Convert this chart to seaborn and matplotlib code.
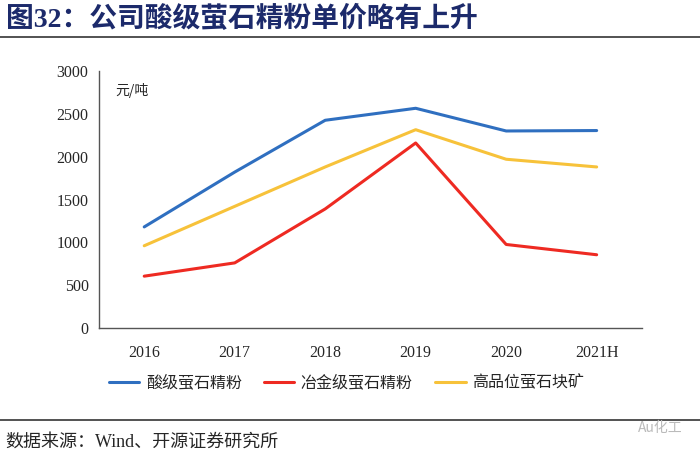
import pandas as pd
import numpy as np
import matplotlib.pyplot as plt
import seaborn as sns

sns.set_style('white')
plt.rcParams['font.family'] = ['Liberation Serif', 'Noto Sans CJK SC', 'DejaVu Sans']

years = ['2016', '2017', '2018', '2019', '2020', '2021H']
acid_grade = [1180, 1820, 2425, 2565, 2300, 2305]      # 酸级萤石精粉
metal_grade = [605, 760, 1390, 2160, 975, 855]         # 冶金级萤石精粉
lump_ore = [960, 1420, 1880, 2315, 1970, 1880]         # 高品位萤石块矿
series_names = ['酸级萤石精粉', '冶金级萤石精粉', '高品位萤石块矿']
colors = ['#2F6FC0', '#EE2A22', '#F7C23A']

df = pd.DataFrame({'year': years * 3,
                   'price': acid_grade + metal_grade + lump_ore,
                   'kind': np.repeat(series_names, len(years))})
df['x'] = list(range(len(years))) * 3

fig = plt.figure(figsize=(7, 4.57), dpi=100)
ax = fig.add_axes([0.1414, 0.2823, 0.7756, 0.5623])

sns.lineplot(data=df, x='x', y='price', hue='kind', palette=colors,
             hue_order=series_names, linewidth=2.2, ax=ax, legend=False)

ax.set_xlim(-0.5, 5.5)
ax.set_ylim(0, 3000)
ax.set_yticks(range(0, 3001, 500))
ax.set_xticks(range(len(years)))
ax.set_xticklabels(years)
ax.set_xticks(np.arange(-0.5, 5.6, 1), minor=True)
ax.tick_params(axis='x', which='major', length=0, pad=12, labelsize=11.5)
ax.tick_params(axis='x', which='minor', length=4, direction='in', color='#555555')
ax.tick_params(axis='y', length=4, direction='out', labelsize=11.5, color='#555555')
ax.set_xlabel('')
ax.set_ylabel('')
for s in ['top', 'right']:
    ax.spines[s].set_visible(False)
for s in ['left', 'bottom']:
    ax.spines[s].set_color('#555555')
    ax.spines[s].set_linewidth(1)
ax.text(0.03, 0.955, '元/吨', transform=ax.transAxes, fontsize=10,
        family=['Noto Sans CJK SC'], va='top')

handles = [plt.Line2D([], [], color=c, linewidth=2.2) for c in colors]
fig.legend(handles, series_names, loc='center', bbox_to_anchor=(0.495, 0.162),
           ncol=3, frameon=False, handlelength=1.9, handletextpad=0.4,
           columnspacing=1.4, prop={'family': ['Noto Sans CJK SC'], 'size': 11.5})

# title and rules
fig.text(0.008, 0.958, '图32：公司酸级萤石精粉单价略有上升', fontsize=20, weight='bold',
         color='#1C2A6B', family=['Liberation Serif', 'Noto Sans CJK SC'], va='center')
fig.add_artist(plt.Line2D([0.0, 1.0], [0.918, 0.918], color='#444444', linewidth=1.3))
fig.add_artist(plt.Line2D([0.0, 1.0], [0.08, 0.08], color='#444444', linewidth=1.3))
fig.text(0.008, 0.032, '数据来源：Wind、开源证券研究所', fontsize=13,
         family=['Liberation Serif', 'Noto Sans CJK SC'], va='center')
fig.text(0.975, 0.063, 'Au化工', fontsize=10, color='#BBBBBB', ha='right',
         va='center', family=['Noto Sans CJK SC'])

fig.savefig('out.png', dpi=100)
